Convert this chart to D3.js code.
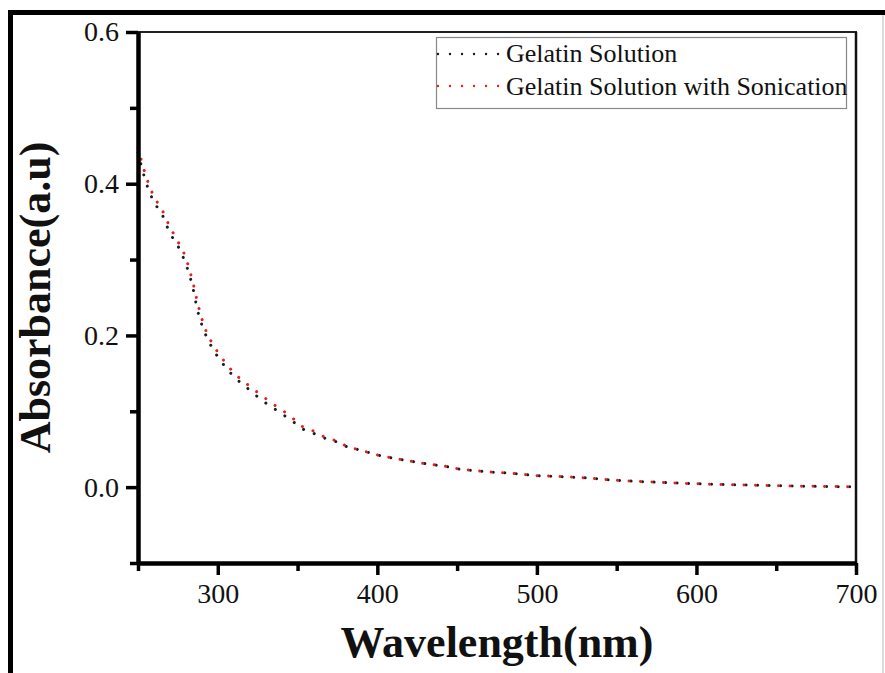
<!DOCTYPE html>
<html>
<head>
<meta charset="utf-8">
<script src="https://cdn.jsdelivr.net/npm/d3@7"></script>
<style>
  html, body { margin: 0; padding: 0; background: #fff; }
  svg { display: block; }
  text { font-family: "Liberation Serif", "Times New Roman", serif; }
</style>
</head>
<body>
<svg id="chart" width="885" height="673"></svg>
<script>
// ---- data ----
const wavelengths = [250, 255, 260, 265, 270, 275, 280, 283, 285, 287, 290, 293, 297, 302, 310, 320, 328, 335, 342, 348, 353, 359, 365, 373, 380, 387, 394, 401, 408, 416, 423, 430, 437, 444, 451, 458, 465, 472, 479, 487, 494, 501, 508, 529, 550, 575, 600, 625, 650, 675, 700];
const gelatin = [0.441, 0.402, 0.376, 0.360, 0.335, 0.318, 0.294, 0.274, 0.257, 0.236, 0.214, 0.198, 0.182, 0.166, 0.146, 0.128, 0.114, 0.104, 0.094, 0.085, 0.077, 0.072, 0.066, 0.061, 0.054, 0.050, 0.046, 0.042, 0.039, 0.036, 0.0335, 0.031, 0.029, 0.027, 0.024, 0.0224, 0.021, 0.0198, 0.019, 0.0177, 0.0163, 0.015, 0.0145, 0.0124, 0.009, 0.0065, 0.0045, 0.003, 0.002, 0.001, 0.0005];
const gelatinSonic = [0.447, 0.410, 0.383, 0.366, 0.343, 0.324, 0.302, 0.281, 0.265, 0.246, 0.222, 0.204, 0.188, 0.172, 0.151, 0.133, 0.120, 0.109, 0.099, 0.089, 0.080, 0.075, 0.068, 0.062, 0.055, 0.050, 0.046, 0.042, 0.039, 0.036, 0.0335, 0.031, 0.029, 0.027, 0.024, 0.0224, 0.021, 0.0198, 0.019, 0.0177, 0.0163, 0.015, 0.0145, 0.0124, 0.009, 0.0065, 0.0045, 0.003, 0.002, 0.001, 0.0005];
const seriesNames = ["Gelatin Solution", "Gelatin Solution with Sonication"];
const seriesColors = ["#1c1c1c", "#e3211f"];
const xMajorTicks = [300, 400, 500, 600, 700];
const xMinorTicks = [250, 350, 450, 550, 650];
const yMajorTicks = [0.0, 0.2, 0.4, 0.6];
const yMinorTicks = [-0.1, 0.1, 0.3, 0.5];
const xTitle = "Wavelength(nm)";
const yTitle = "Absorbance(a.u)";

// ---- layout ----
const FONT = '"Liberation Serif", "Times New Roman", serif';
const svg = d3.select("#chart");
const L = 138, R = 856, T = 32, B = 563;

const x = d3.scaleLinear().domain([250, 700]).range([L, R]);
const y = d3.scaleLinear().domain([-0.1, 0.6]).range([B, T]);

// outer frame of the figure
svg.append("rect").attr("width", 885).attr("height", 673).attr("fill", "#fff");
svg.append("line").attr("x1", 8).attr("x2", 885).attr("y1", 12.5).attr("y2", 12.5)
  .attr("stroke", "#000").attr("stroke-width", 5);
svg.append("line").attr("x1", 10.5).attr("x2", 10.5).attr("y1", 10).attr("y2", 673)
  .attr("stroke", "#000").attr("stroke-width", 5);
svg.append("line").attr("x1", 883).attr("x2", 883).attr("y1", 15).attr("y2", 673)
  .attr("stroke", "#bbb").attr("stroke-width", 1);

// data lines
const series = [gelatin, gelatinSonic];
const lineGen = d3.line()
  .x((d, i) => x(wavelengths[i]))
  .y(d => y(d))
  .curve(d3.curveMonotoneX);

series.forEach((vals, k) => {
  svg.append("path")
    .datum(vals)
    .attr("d", lineGen)
    .attr("fill", "none")
    .attr("stroke", seriesColors[k])
    .attr("stroke-width", 3)
    .attr("stroke-linecap", "round")
    .attr("stroke-dasharray", "0.01 11.5");
});

// top and right thin borders
svg.append("line").attr("x1", L).attr("x2", R + 1).attr("y1", T).attr("y2", T)
  .attr("stroke", "#222").attr("stroke-width", 2);
svg.append("line").attr("x1", R).attr("x2", R).attr("y1", T).attr("y2", B)
  .attr("stroke", "#111").attr("stroke-width", 2.5);

// axes
function styleAxis(g) {
  g.select(".domain").attr("stroke", "#000").attr("stroke-width", 4);
  g.selectAll(".tick line").attr("stroke", "#000").attr("stroke-width", 3.5);
  g.selectAll(".tick text").attr("fill", "#111")
    .attr("font-family", FONT)
    .style("font-family", FONT)
    .style("font-size", "28px");
}

// minor ticks
svg.append("g").attr("transform", `translate(0,${B})`)
  .call(d3.axisBottom(x).tickValues(xMinorTicks).tickSize(8).tickFormat("").tickSizeOuter(0))
  .call(styleAxis);
svg.append("g").attr("transform", `translate(${L},0)`)
  .call(d3.axisLeft(y).tickValues(yMinorTicks).tickSize(8).tickFormat("").tickSizeOuter(0))
  .call(styleAxis);

// major ticks
const xAxisG = svg.append("g").attr("transform", `translate(0,${B})`)
  .call(d3.axisBottom(x).tickValues(xMajorTicks).tickSize(12).tickPadding(8)
    .tickFormat(d3.format("d")).tickSizeOuter(0))
  .call(styleAxis);
xAxisG.selectAll(".tick text").attr("dy", "0.71em");

const yAxisG = svg.append("g").attr("transform", `translate(${L},0)`)
  .call(d3.axisLeft(y).tickValues(yMajorTicks).tickSize(12).tickPadding(7)
    .tickFormat(d3.format(".1f")).tickSizeOuter(0))
  .call(styleAxis);

// axis titles
svg.append("text")
  .attr("x", (L + R) / 2).attr("y", 657)
  .attr("text-anchor", "middle")
  .attr("font-family", FONT)
  .style("font-size", "44px").style("font-weight", "bold")
  .attr("fill", "#111")
  .text(xTitle);

svg.append("text")
  .attr("transform", `translate(50,${(T + B) / 2}) rotate(-90)`)
  .attr("text-anchor", "middle")
  .attr("font-family", FONT)
  .style("font-size", "44px").style("font-weight", "bold")
  .attr("fill", "#111")
  .text(yTitle);

// legend
const leg = svg.append("g");
leg.append("rect").attr("x", 436.5).attr("y", 37.5).attr("width", 410).attr("height", 71)
  .attr("fill", "#fff").attr("stroke", "#888").attr("stroke-width", 1.2);
const legRows = [{ ly: 54, ty: 62 }, { ly: 86, ty: 95 }];
seriesNames.forEach((name, k) => {
  leg.append("line")
    .attr("x1", 438).attr("x2", 498.5)
    .attr("y1", legRows[k].ly).attr("y2", legRows[k].ly)
    .attr("stroke", seriesColors[k]).attr("stroke-width", 2.4)
    .attr("stroke-linecap", "round").attr("stroke-dasharray", "0.01 12");
  leg.append("text")
    .attr("x", 506).attr("y", legRows[k].ty)
    .attr("font-family", FONT)
    .style("font-size", "26px").attr("fill", "#111")
    .text(name);
});
</script>
</body>
</html>
